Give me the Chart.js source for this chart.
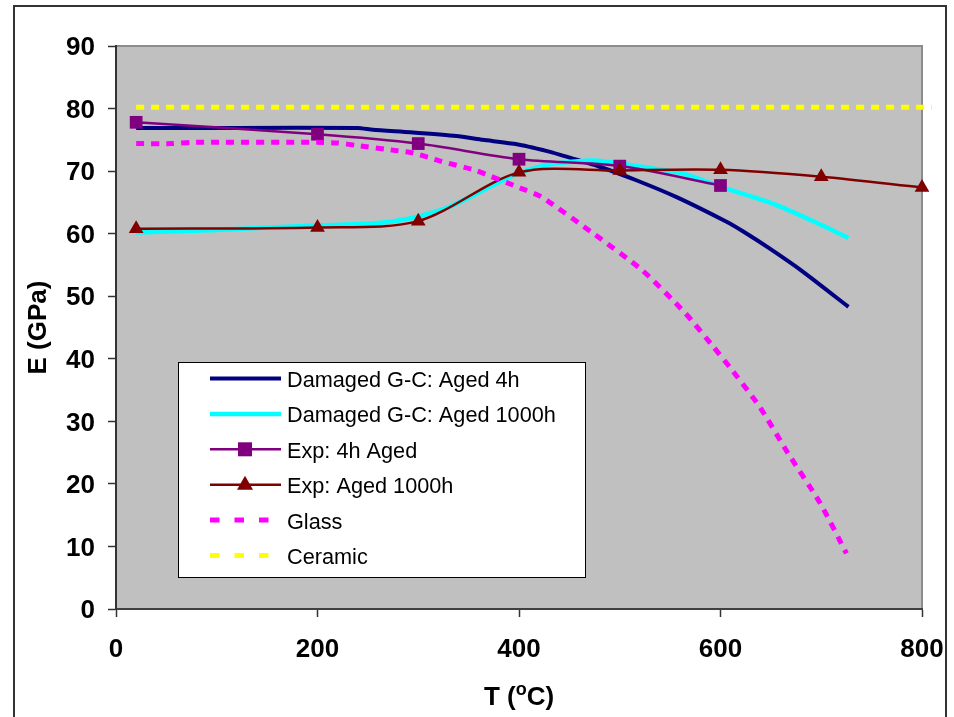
<!DOCTYPE html>
<html>
<head>
<meta charset="utf-8">
<script src="https://cdn.jsdelivr.net/npm/chart.js@4/dist/chart.umd.min.js"></script>
<style>
  body { margin: 0; background: #fff; }
  canvas { display: block; }
</style>
</head>
<body>
<canvas id="chart" width="954" height="717"></canvas>
<script>
// Damaged G-C model, aged 4h
const gc4hT = [20, 120, 240, 255, 292, 338, 364, 398, 428, 441, 480, 517, 557, 606, 623, 649, 682, 727];
const gc4hE = [76.9, 76.9, 76.9, 76.6, 76.2, 75.6, 75.0, 74.3, 73.2, 72.6, 70.7, 68.5, 65.8, 61.9, 60.3, 57.6, 53.9, 48.3];

// Damaged G-C model, aged 1000h
const gc1000T = [20, 100, 182, 250, 276, 299, 331, 364, 398, 431, 474, 513, 563, 606, 652, 696, 727];
const gc1000E = [60.2, 60.6, 61.2, 61.6, 62.0, 62.7, 64.3, 66.9, 69.6, 71.1, 71.7, 70.9, 69.6, 67.2, 64.8, 61.7, 59.3];

// experiments
const exp4hT = [20, 200, 300, 400, 500, 600];
const exp4hE = [77.8, 75.9, 74.4, 71.9, 70.8, 67.7];
const exp1000T = [20, 200, 300, 400, 500, 600, 700, 800];
const exp1000E = [60.8, 61.0, 62.0, 69.8, 70.1, 70.2, 69.1, 67.4];

// bounds
const glassT = [20, 55, 75, 200, 220, 239, 277, 295, 322, 357, 401, 422, 474, 522, 565, 593, 609, 639, 667, 699, 725];
const glassE = [74.4, 74.4, 74.6, 74.6, 74.5, 74.1, 73.3, 72.9, 71.6, 70.1, 67.3, 65.9, 60.0, 54.2, 47.3, 41.9, 38.7, 32.3, 24.9, 16.9, 8.9];
const ceramicT = [20, 810];
const ceramicE = [80.2, 80.2];

const xTicks = [0, 200, 400, 600, 800];
const yTicks = [0, 10, 20, 30, 40, 50, 60, 70, 80, 90];

const labels = [
    "Damaged G-C: Aged 4h",
    "Damaged G-C: Aged 1000h",
    "Exp: 4h Aged",
    "Exp: Aged 1000h",
    "Glass",
    "Ceramic"
];

const FONT = '"Liberation Sans", Arial, sans-serif';

function pts(xs, ys) {
    return xs.map((x, i) => ({ x: x, y: ys[i] }));
}

// grey plot area, its border and the outer frame
const backdrop = {
    id: "backdrop",
    beforeDraw(chart) {
        const { ctx, chartArea: a } = chart;
        ctx.save();
        ctx.fillStyle = "#fff";
        ctx.fillRect(0, 0, chart.width, chart.height);
        ctx.fillStyle = "#c0c0c0";
        ctx.fillRect(a.left, a.top, a.right - a.left, a.bottom - a.top);
        ctx.strokeStyle = "#8c8c8c";
        ctx.lineWidth = 2;
        ctx.beginPath();
        ctx.moveTo(a.left, a.top);
        ctx.lineTo(a.right, a.top);
        ctx.lineTo(a.right, a.bottom);
        ctx.stroke();
        ctx.strokeStyle = "#333";
        ctx.lineWidth = 2;
        ctx.strokeRect(14, 6, 932, 740);
        ctx.restore();
    }
};

// x title with superscript o
const xTitle = {
    id: "xTitle",
    afterDraw(chart) {
        const { ctx, chartArea: a } = chart;
        const big = "bold 26px " + FONT;
        const small = "bold 18px " + FONT;
        ctx.save();
        ctx.fillStyle = "#000";
        ctx.textBaseline = "alphabetic";
        ctx.font = big;
        const w1 = ctx.measureText("T (").width;
        const w3 = ctx.measureText("C)").width;
        ctx.font = small;
        const w2 = ctx.measureText("o").width;
        let x = (a.left + a.right) / 2 - (w1 + w2 + w3) / 2;
        const base = 705;
        ctx.font = big;
        ctx.fillText("T (", x, base);
        x += w1;
        ctx.font = small;
        ctx.fillText("o", x, base - 10);
        x += w2;
        ctx.font = big;
        ctx.fillText("C)", x, base);
        ctx.restore();
    }
};

// boxed legend inside the plot
const boxLegend = {
    id: "boxLegend",
    afterDraw(chart) {
        const ctx = chart.ctx;
        const left = 178, top = 362, w = 407, h = 215;
        ctx.save();
        ctx.fillStyle = "#fff";
        ctx.fillRect(left, top, w, h);
        ctx.strokeStyle = "#000";
        ctx.lineWidth = 1;
        ctx.strokeRect(left + 0.5, top + 0.5, w, h);
        chart.data.datasets.forEach((ds, i) => {
            const y = 378.5 + i * 35.4;
            ctx.strokeStyle = ds.borderColor;
            ctx.lineWidth = ds.borderWidth;
            ctx.setLineDash(ds.borderDash && ds.borderDash.length ? [9.5, 15] : []);
            ctx.beginPath();
            ctx.moveTo(210, y);
            ctx.lineTo(281, y);
            ctx.stroke();
            ctx.setLineDash([]);
            if (ds.pointRadius > 0) {
                ctx.fillStyle = ds.pointBackgroundColor;
                if (ds.pointStyle === "rect") {
                    ctx.fillRect(238, y - 7, 14, 14);
                } else {
                    ctx.beginPath();
                    ctx.moveTo(245, y - 9);
                    ctx.lineTo(253, y + 5);
                    ctx.lineTo(237, y + 5);
                    ctx.closePath();
                    ctx.fill();
                }
            }
            ctx.fillStyle = "#000";
            ctx.font = "21.7px " + FONT;
            ctx.textBaseline = "middle";
            ctx.fillText(ds.label, 287, y + 2.5);
        });
        ctx.restore();
    }
};

const tickFont = { family: FONT, size: 26, weight: "bold" };

new Chart(document.getElementById("chart"), {
    type: "line",
    data: {
        datasets: [
            {
                label: labels[0], data: pts(gc4hT, gc4hE),
                borderColor: "#000080", borderWidth: 4, pointRadius: 0, tension: 0.2, order: 6
            },
            {
                label: labels[1], data: pts(gc1000T, gc1000E),
                borderColor: "#00ffff", borderWidth: 4.5, pointRadius: 0, tension: 0.2, order: 5
            },
            {
                label: labels[2], data: pts(exp4hT, exp4hE),
                borderColor: "#800080", borderWidth: 2.5, tension: 0.3, order: 4,
                pointStyle: "rect", pointRadius: 9, pointBackgroundColor: "#800080",
                pointBorderColor: "#800080", pointBorderWidth: 0
            },
            {
                label: labels[3], data: pts(exp1000T, exp1000E),
                borderColor: "#800000", borderWidth: 2.5, tension: 0.3, order: 3, clip: false,
                pointStyle: "triangle", pointRadius: 8.5, pointBackgroundColor: "#800000",
                pointBorderColor: "#800000", pointBorderWidth: 0
            },
            {
                label: labels[4], data: pts(glassT, glassE),
                borderColor: "#ff00ff", borderWidth: 5, borderDash: [8, 7], pointRadius: 0,
                tension: 0.2, order: 2
            },
            {
                label: labels[5], data: pts(ceramicT, ceramicE),
                borderColor: "#ffff00", borderWidth: 5, borderDash: [8, 7], pointRadius: 0,
                order: 1, clip: false
            }
        ]
    },
    options: {
        responsive: false,
        animation: false,
        devicePixelRatio: 1,
        layout: { padding: { top: 46, right: 32, left: 0, bottom: 0 } },
        plugins: {
            legend: { display: false },
            tooltip: { enabled: false }
        },
        scales: {
            x: {
                type: "linear",
                min: xTicks[0],
                max: xTicks[xTicks.length - 1],
                afterBuildTicks: s => { s.ticks = xTicks.map(v => ({ value: v })); },
                afterFit: s => { s.height = 108; s.paddingLeft = 0; s.paddingRight = 0; },
                ticks: { color: "#000", font: tickFont, padding: 17, maxRotation: 0 },
                grid: { drawOnChartArea: false, tickLength: 8, tickColor: "#333", tickWidth: 1.5 },
                border: { color: "#404040", width: 2 }
            },
            y: {
                type: "linear",
                min: yTicks[0],
                max: yTicks[yTicks.length - 1],
                afterBuildTicks: s => { s.ticks = yTicks.map(v => ({ value: v })); },
                afterFit: s => { s.width = 116; s.paddingTop = 0; s.paddingBottom = 0; },
                ticks: { color: "#000", font: tickFont, padding: 13, labelOffset: 2 },
                grid: { drawOnChartArea: false, tickLength: 8, tickColor: "#333", tickWidth: 1.5 },
                border: { color: "#333", width: 2 },
                title: {
                    display: true, text: "E (GPa)", color: "#000",
                    font: { family: FONT, size: 26, weight: "bold" },
                    padding: { top: 23, bottom: 0 }
                }
            }
        }
    },
    plugins: [backdrop, xTitle, boxLegend]
});
</script>
</body>
</html>
